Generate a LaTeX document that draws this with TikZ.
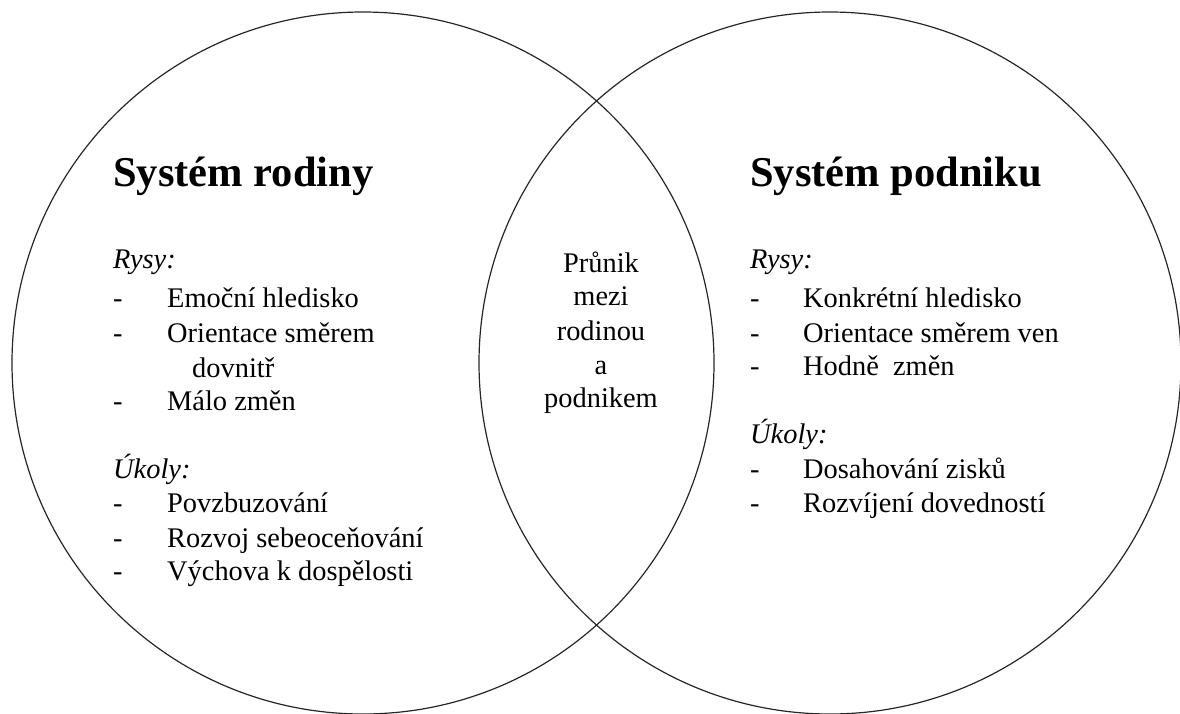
\documentclass[tikz,border=0pt]{standalone}
\usepackage{fontspec}
\setmainfont{Liberation Serif}
\begin{document}
\begin{tikzpicture}[x=1pt,y=-1pt,
		ring/.style={
			draw=black!85,
			circle,
			line width=1.2pt,
			minimum size=702pt,
			inner sep=0pt
		},
		title/.style={anchor=base west, inner sep=0pt, font=\fontsize{42.5}{48}\selectfont\bfseries},
		head/.style={anchor=base west, inner sep=0pt, font=\fontsize{28.4}{34.5}\selectfont\itshape},
		item/.style={anchor=base west, inner sep=0pt, font=\fontsize{28.4}{34.5}\selectfont},
		mid/.style={anchor=base, inner sep=0pt, font=\fontsize{28.4}{34.5}\selectfont}
		]
		\useasboundingbox (0,0) rectangle (1180,713);
		
		% The two systems
		\node[ring] (fam) at (363,363) {};
		\node[ring] (firm) at (830,363) {};
		
		% Family system
		\node[title] (famtitle) at (113,186) {Systém rodiny};
		\node[head] (famrysy) at (113,268) {Rysy:};
		\foreach \y/\t [count=\i] in {307/Emoční hledisko, 342/Orientace směrem, 410/Málo změn}{
			\node[item] (famd\i) at (113,\y) {-};
			\node[item] (famr\i) at (167,\y) {\t};
		}
		\node[item] (famr2b) at (192,377) {dovnitř};
		\node[head] (famukoly) at (113,478) {Úkoly:};
		\foreach \y/\t [count=\i] in {512/Povzbuzování, 547/Rozvoj sebeoceňování, 580/Výchova k dospělosti}{
			\node[item] (famud\i) at (113,\y) {-};
			\node[item] (famu\i) at (167,\y) {\t};
		}
		
		% Firm system
		\node[title] (firmtitle) at (750,186) {Systém podniku};
		\node[head] (firmrysy) at (750,268) {Rysy:};
		\foreach \y/\t [count=\i] in {307/Konkrétní hledisko, 342/Orientace směrem ven, 375/Hodně\ \ změn}{
			\node[item] (firmd\i) at (750,\y) {-};
			\node[item] (firmr\i) at (803,\y) {\t};
		}
		\node[head] (firmukoly) at (750,443) {Úkoly:};
		\foreach \y/\t [count=\i] in {478/Dosahování zisků, 512/Rozvíjení dovedností}{
			\node[item] (firmud\i) at (750,\y) {-};
			\node[item] (firmu\i) at (803,\y) {\t};
		}
		
		% Overlap
		\foreach \y/\t [count=\i] in {272/Průnik, 305/mezi, 340/rodinou, 374/a, 407/podnikem}{
			\node[mid] (both\i) at (601,\y) {\t};
		}
		
	\end{tikzpicture}
\end{document}
